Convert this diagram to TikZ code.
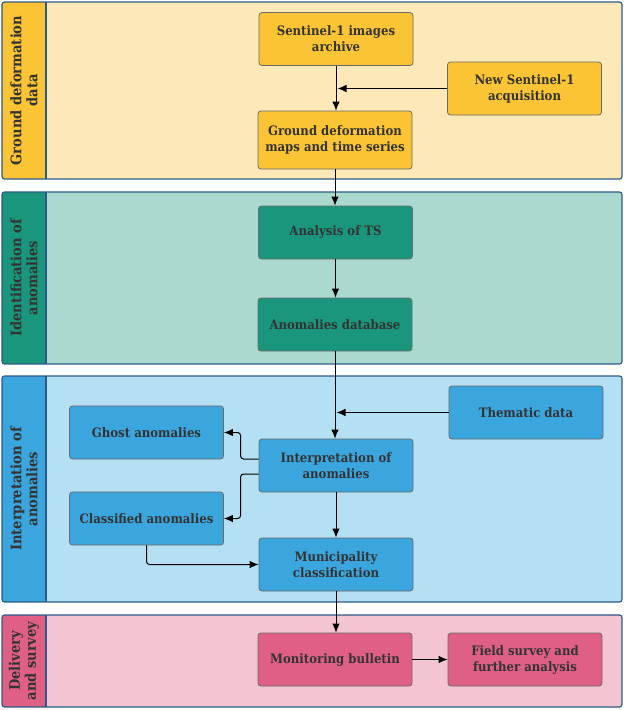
\documentclass[tikz,border=0pt]{standalone}
\usepackage{fontspec}
\setmainfont{DejaVu Serif Condensed}
\usetikzlibrary{arrows.meta,positioning}

\definecolor{laneline}{HTML}{2B5B88}
\definecolor{boxline}{HTML}{6A6A6A}
\definecolor{txt}{HTML}{333333}
\definecolor{yelstrip}{HTML}{FBC434}
\definecolor{yelback}{HTML}{FDE9B7}
\definecolor{tealstrip}{HTML}{1A967D}
\definecolor{tealback}{HTML}{ABD9CF}
\definecolor{bluestrip}{HTML}{3BA5DD}
\definecolor{blueback}{HTML}{B5DFF2}
\definecolor{pinkstrip}{HTML}{DF5F85}
\definecolor{pinkback}{HTML}{F3C5D2}

\tikzset{
  lane/.style={draw=laneline, line width=1.2pt, rounded corners=2.5pt},
  box/.style={draw=boxline, line width=0.8pt, rounded corners=3pt,
    minimum width=154pt, minimum height=53pt, align=center, inner sep=2pt,
    text=txt, font=\bfseries\fontsize{13}{16}\selectfont},
  lanelabel/.style={rotate=90, align=center, text=txt,
    font=\bfseries\fontsize{14.5}{16}\selectfont},
  flow/.style={-{Latex[length=9pt,width=7.5pt]}, line width=1pt}
}

\begin{document}
\begin{tikzpicture}[x=1pt,y=-1pt]
\useasboundingbox (0,0) rectangle (625,710);

\begin{scope}
  \clip[rounded corners=2.5pt] (2,2) rectangle (622,179);
  \fill[yelstrip] (2,2) rectangle (46,179);
  \fill[yelback] (46,2) rectangle (622,179);
\end{scope}
\draw[lane] (2,2) rectangle (622,179);
\draw[laneline, line width=1.2pt] (46,2)--(46,179);
\node[lanelabel] (lab1) at (24,90.5) {Ground deformation\\data};

\begin{scope}
  \clip[rounded corners=2.5pt] (2,192) rectangle (622,364);
  \fill[tealstrip] (2,192) rectangle (46,364);
  \fill[tealback] (46,192) rectangle (622,364);
\end{scope}
\draw[lane] (2,192) rectangle (622,364);
\draw[laneline, line width=1.2pt] (46,192)--(46,364);
\node[lanelabel] (lab2) at (24,278) {Identification of\\anomalies};

\begin{scope}
  \clip[rounded corners=2.5pt] (2,376) rectangle (622,602);
  \fill[bluestrip] (2,376) rectangle (46,602);
  \fill[blueback] (46,376) rectangle (622,602);
\end{scope}
\draw[lane] (2,376) rectangle (622,602);
\draw[laneline, line width=1.2pt] (46,376)--(46,602);
\node[lanelabel] (lab3) at (24,489) {Interpretation of\\anomalies};

\begin{scope}
  \clip[rounded corners=2.5pt] (2,615) rectangle (622,707);
  \fill[pinkstrip] (2,615) rectangle (46,707);
  \fill[pinkback] (46,615) rectangle (622,707);
\end{scope}
\draw[lane] (2,615) rectangle (622,707);
\draw[laneline, line width=1.2pt] (46,615)--(46,707);
\node[lanelabel] (lab4) at (24,661) {Delivery\\and survey};

\node[box, fill=yelstrip] (archive) at (336,39) {Sentinel-1 images\\archive};
\node[box, fill=yelstrip] (acq) at (524.5,88.5) {New Sentinel-1\\acquisition};
\node[box, fill=yelstrip, minimum height=58pt] (maps) at (335,140) {Ground deformation\\maps and time series};

\node[box, fill=tealstrip] (ts) at (335.5,232.5) {Analysis of TS};
\node[box, fill=tealstrip] (db) at (335,324.5) {Anomalies database};

\node[box, fill=bluestrip] (thematic) at (526,412.5) {Thematic data};
\node[box, fill=bluestrip] (ghost) at (146.5,432.5) {Ghost anomalies};
\node[box, fill=bluestrip] (interp) at (336,465.5) {Interpretation of\\anomalies};
\node[box, fill=bluestrip] (classified) at (146.5,518.5) {Classified anomalies};
\node[box, fill=bluestrip] (muni) at (336,564.5) {Municipality\\classification};

\node[box, fill=pinkstrip] (bulletin) at (335,659.5) {Monitoring bulletin};
\node[box, fill=pinkstrip] (field) at (525,659.5) {Field survey and\\further analysis};

\coordinate (j1) at ([xshift=1.5pt]archive.south |- acq.west);
\coordinate (j2) at ([xshift=1.5pt]db.south |- thematic.west);

\draw[flow] (archive.south) -- (archive.south |- maps.north);
\draw[flow] (acq.west) -- (j1);
\draw[flow] (maps.south) -- (maps.south |- ts.north);
\draw[flow] (ts.south) -- (ts.south |- db.north);
\draw[flow] (db.south) -- (db.south |- interp.north);
\draw[flow] (thematic.west) -- (j2);
\draw[flow, rounded corners=3pt] ([yshift=6.5pt]interp.west) -- ++(-18,0) |- (ghost.east);
\draw[flow, rounded corners=3pt] ([yshift=-8.5pt]interp.west) -- ++(-18,0) |- (classified.east);
\draw[flow, rounded corners=3pt] (classified.south) |- (muni.west);
\draw[flow] (interp.south) -- (interp.south |- muni.north);
\draw[flow] (muni.south) -- (muni.south |- bulletin.north);
\draw[flow] (bulletin.east) -- (field.west);
\end{tikzpicture}
\end{document}
